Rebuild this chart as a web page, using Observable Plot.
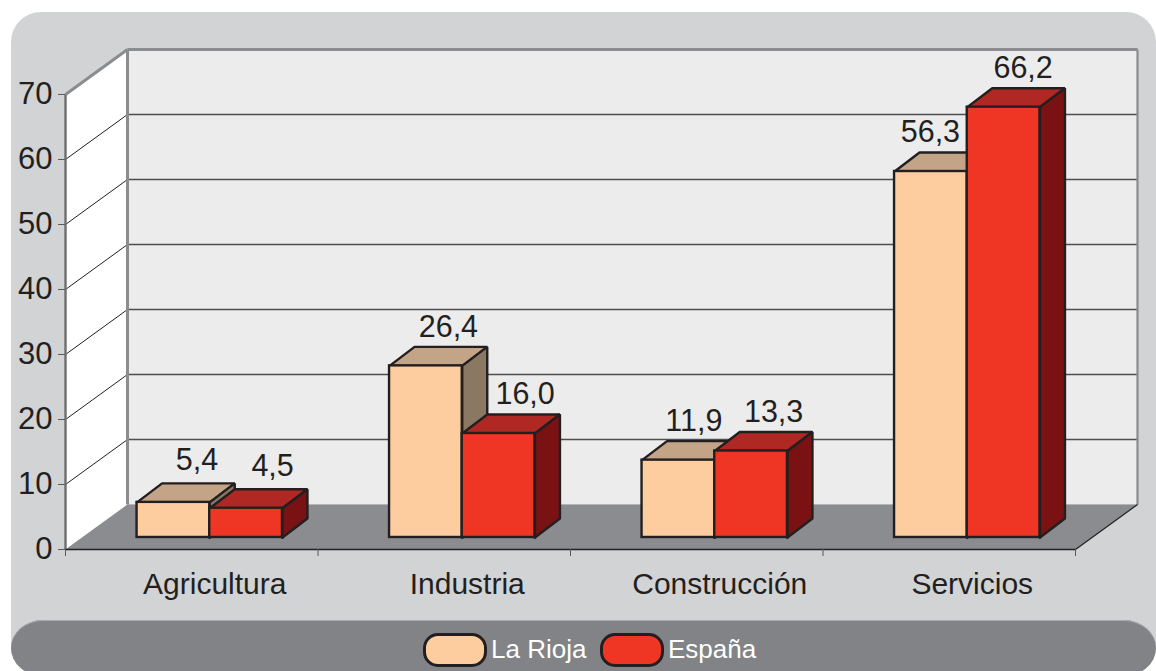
<!DOCTYPE html>
<html lang="es">
<head>
<meta charset="utf-8">
<title>La Rioja y España por sector</title>
<script src="https://cdn.jsdelivr.net/npm/d3@7"></script>
<script src="https://cdn.jsdelivr.net/npm/@observablehq/plot@0.6"></script>
<style>
  html, body { margin: 0; padding: 0; background: #fff; }
  #page { position: relative; width: 1156px; height: 671px; overflow: hidden; background: #fff; font-family: "Liberation Sans", Arial, sans-serif; }
  #panel { position: absolute; left: 11px; top: 12px; width: 1145px; height: 664px; background: #d1d3d4; border-radius: 30px 30px 32px 32px / 30px 30px 28px 28px; }
  #band { position: absolute; left: 11px; top: 620px; width: 1145px; height: 56px; background: #818386; border-radius: 32px / 28px; box-shadow: inset 0 1px 0 #a7a9ac; }
  #chart { position: absolute; left: 0; top: 0; }
  .key { position: absolute; top: 633px; width: 58px; height: 28px; border: 3px solid #231f20; border-radius: 15px; }
  .lab { position: absolute; top: 633px; line-height: 33px; font-size: 26px; color: #fff; white-space: nowrap; }
</style>
</head>
<body>
<div id="page">
  <div id="panel"></div>
  <div id="band"></div>
  <div id="chart"></div>
  <div class="key" style="left:423px;background:#fecd9f"></div>
  <div class="lab" style="left:491px">La Rioja</div>
  <div class="key" style="left:600px;background:#ef3624"></div>
  <div class="lab" style="left:668px">España</div>
</div>
<script>
// Data
const categories = ["Agricultura", "Industria", "Construcción", "Servicios"];
const laRioja = [5.4, 26.4, 11.9, 56.3];
const espana = [4.5, 16.0, 13.3, 66.2];
const yTicks = [0, 10, 20, 30, 40, 50, 60, 70];
const fmt = v => v.toFixed(1).replace(".", ",");

// Oblique projection in data units: x is in category widths, y in chart units
const chartTop = 70;
const depthX = 62 / 252.5, depthY = 6.92;     // depth of the floor
const barDepthX = 25 / 252.5, barDepthY = 2.92; // depth of a bar
const baseX = 18 / 252.5, baseY = 1.85;       // bars stand this far in from the front edge
const barW = 72.7 / 252.5;
const nudgeA = [11, 10, 3, -13], nudgeB = [14, 14, 10, 7]; // label offsets, px
const nudgeUp = [3, 0, 0, 0];                              // label lift, px

const ink = "#231f20", gray = "#8a8c8f", grid = "#4d4e50";

const poly = (pts, fill, extra = {}) => Plot.line(pts, {
  x: d => d[0], y: d => d[1], fill, stroke: ink, strokeWidth: 2.4,
  strokeLinejoin: "miter", strokeLinecap: "square", ...extra
});
const plainPoly = (pts, fill) => poly(pts, fill, {stroke: "none"});
const seg = (x1, y1, x2, y2, stroke, strokeWidth) =>
  Plot.link([0], {x1: () => x1, y1: () => y1, x2: () => x2, y2: () => y2, stroke, strokeWidth});

function bar(x0, value, front, top, side) {
  const x1 = x0 + barW, yb = baseY, yt = baseY + value;
  const X = barDepthX, Y = barDepthY;
  return [
    poly([[x0, yt], [x0 + X, yt + Y], [x1 + X, yt + Y], [x1, yt], [x0, yt]], top),
    poly([[x1, yb], [x1 + X, yb + Y], [x1 + X, yt + Y], [x1, yt], [x1, yb]], side),
    Plot.rect([0], {x1: () => x0, x2: () => x1, y1: () => yb, y2: () => yt, fill: front, stroke: ink, strokeWidth: 2.4})
  ];
}

const barMarks = categories.flatMap((c, i) => {
  const xa = i + 0.5 + baseX - barW, xb = i + 0.5 + baseX;
  return [
    ...bar(xa, laRioja[i], "#fecd9f", "#c4a487", "#8a7863"),
    ...bar(xb, espana[i], "#ef3624", "#b02823", "#7a1214")
  ];
});

const valueLabels = categories.flatMap((c, i) => {
  const xa = i + 0.5 + baseX - barW, xb = i + 0.5 + baseX;
  const lift = nudgeUp[i] / 6.5;
  return [
    {x: xa + barW / 2 + barDepthX / 2 + nudgeA[i] / 252.5, y: baseY + laRioja[i] + barDepthY + lift, t: fmt(laRioja[i])},
    {x: xb + barW / 2 + barDepthX / 2 + nudgeB[i] / 252.5, y: baseY + espana[i] + barDepthY + lift, t: fmt(espana[i])}
  ];
});

const n = categories.length;
const chart = Plot.plot({
  width: 1156, height: 671,
  marginLeft: 65, marginRight: 19, marginTop: 49, marginBottom: 122,
  style: {background: "transparent", fontFamily: "'Liberation Sans', Arial, sans-serif", overflow: "visible"},
  x: {domain: [0, n + depthX], axis: null},
  y: {domain: [0, chartTop + depthY], axis: null},
  marks: [
    // back wall, side wall, floor
    plainPoly([[depthX, depthY], [n + depthX, depthY], [n + depthX, chartTop + depthY], [depthX, chartTop + depthY]], "#ececed"),
    plainPoly([[0, 0], [depthX, depthY], [depthX, chartTop + depthY], [0, chartTop]], "#ffffff"),
    plainPoly([[0, 0], [n, 0], [n + depthX, depthY], [depthX, depthY]], gray),
    // grid lines on both walls
    ...yTicks.filter(t => t > 0 && t < chartTop).flatMap(t => [
      seg(depthX, t + depthY, n + depthX, t + depthY, grid, 1.3),
      seg(0, t, depthX, t + depthY, ink, 1)
    ]),
    // wall edges
    seg(depthX, chartTop + depthY, n + depthX, chartTop + depthY, gray, 3),
    seg(0, chartTop, depthX, chartTop + depthY, gray, 3),
    seg(depthX, depthY, depthX, chartTop + depthY, gray, 3),
    seg(n + depthX, depthY, n + depthX, chartTop + depthY, gray, 2.2),
    seg(0, 0, 0, chartTop, "#6d6e71", 2.4),
    seg(0, 0, n, 0, ink, 1.6),
    seg(n, 0, n + depthX, depthY, ink, 1.2),
    // axes
    Plot.axisY(yTicks, {anchor: "left", tickSize: 7, tickPadding: 6, fontSize: 31, fill: ink, stroke: "#58595b", label: null}),
    Plot.axisX([0, 1, 2, 3, 4], {anchor: "bottom", tickSize: 7, tickFormat: () => "", stroke: "#58595b", label: null}),
    Plot.axisX(categories.map((c, i) => i + 0.5), {
      anchor: "bottom", tickSize: 0, tickPadding: 23, fontSize: 30, fill: ink, dx: 23, label: null,
      tickFormat: v => categories[Math.floor(v)]
    }),
    ...barMarks,
    Plot.text(valueLabels, {x: "x", y: "y", text: "t", dy: -20, fontSize: 30.5, fill: ink})
  ]
});
document.getElementById("chart").appendChild(chart);
</script>
</body>
</html>
